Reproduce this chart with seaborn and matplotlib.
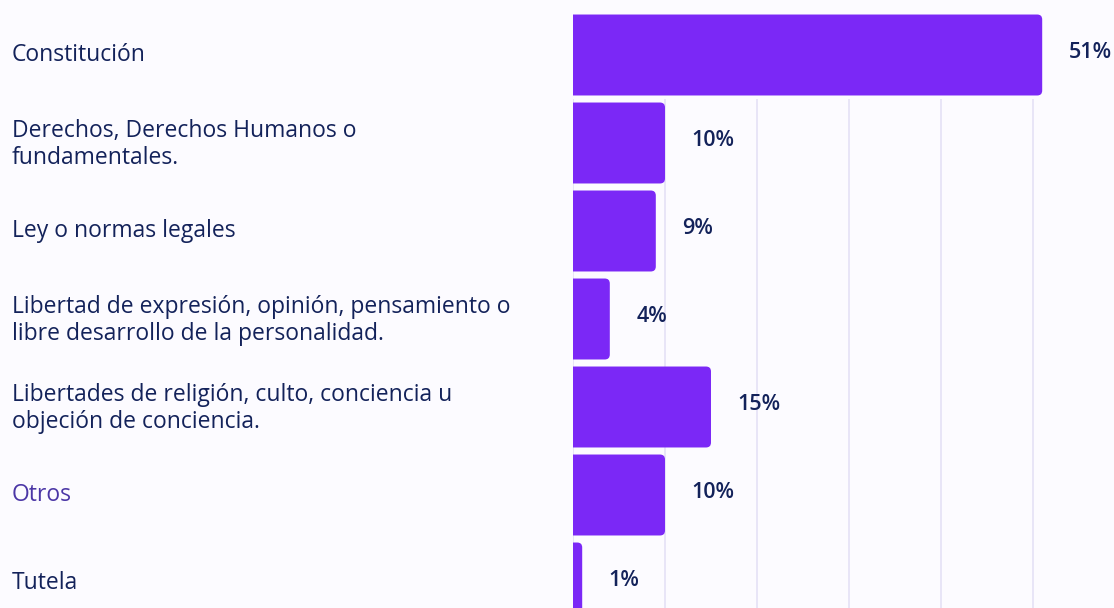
import matplotlib
matplotlib.use("Agg")
import matplotlib.pyplot as plt
from matplotlib.patches import FancyBboxPatch
from matplotlib.transforms import ScaledTranslation
import seaborn as sns
import pandas as pd

categories = [
    "Constitución",
    "Derechos, Derechos Humanos o\nfundamentales.",
    "Ley o normas legales",
    "Libertad de expresión, opinión, pensamiento o\nlibre desarrollo de la personalidad.",
    "Libertades de religión, culto, conciencia u\nobjeción de conciencia.",
    "Otros",
    "Tutela",
]
values = [51, 10, 9, 4, 15, 10, 1]
value_labels = ["51%", "10%", "9%", "4%", "15%", "10%", "1%"]
grid_ticks = [0, 10, 20, 30, 40, 50]

BG = "#fcfbff"
BAR = "#7b28f6"
NAVY = "#13225a"
OTROS = "#4b36a6"
GRID = "#e4e1f6"

sns.set_theme(style="white")
plt.rcParams["font.family"] = ["Open Sans", "DejaVu Sans"]

W, H = 1114, 608
fig = plt.figure(figsize=(W / 100, H / 100), dpi=100, facecolor=BG)
left_px = 573
ax = fig.add_axes([left_px / W, 0, (W - left_px) / W, 1])
ax.set_facecolor(BG)

df = pd.DataFrame({"cat": categories, "val": values})
sns.barplot(data=df, y="cat", x="val", orient="h", color=BAR, width=0.92,
            ax=ax, zorder=3)

px_per_unit = 9.2
ax.set_xlim(0, (W - left_px) / px_per_unit)
row_px = 88
top = -55 / row_px
bottom = top + H / row_px
ax.set_ylim(bottom, top)

# rounded bars
r_px = 5
rx = r_px / px_per_unit
ry = r_px / row_px
for p in list(ax.patches):
    x0, y0 = p.get_x(), p.get_y()
    w, h = p.get_width(), p.get_height()
    fb = FancyBboxPatch((x0 - rx * 2, y0), w + rx * 2, h,
                        boxstyle=f"round,pad=0,rounding_size={rx}",
                        mutation_aspect=ry / rx,
                        facecolor=BAR, edgecolor="none", zorder=3)
    p.remove()
    ax.add_patch(fb)

ax.vlines(grid_ticks, 0.5, bottom + 1, colors=GRID, linewidth=1.2, zorder=1)

for i, (v, lab) in enumerate(zip(values, value_labels)):
    ax.annotate(lab, (v, i), xytext=(19, 2), textcoords="offset points",
                ha="left", va="center", fontsize=15.5, fontweight="semibold",
                color=NAVY, annotation_clip=False)

ax.set_xticks([])
ax.set_yticks(range(len(categories)))
ax.set_yticklabels(categories, ha="left", fontsize=16.5, linespacing=1.15)
ax.tick_params(axis="y", length=0, pad=(left_px - 12) * 0.72)
shift = ScaledTranslation(0, 3 / 100, fig.dpi_scale_trans)
for t, c in zip(ax.get_yticklabels(), categories):
    t.set_color(OTROS if c == "Otros" else NAVY)
    t.set_transform(t.get_transform() + shift)
ax.set_xlabel("")
ax.set_ylabel("")
for s in ax.spines.values():
    s.set_visible(False)

fig.savefig("out.png", dpi=100, facecolor=BG)
